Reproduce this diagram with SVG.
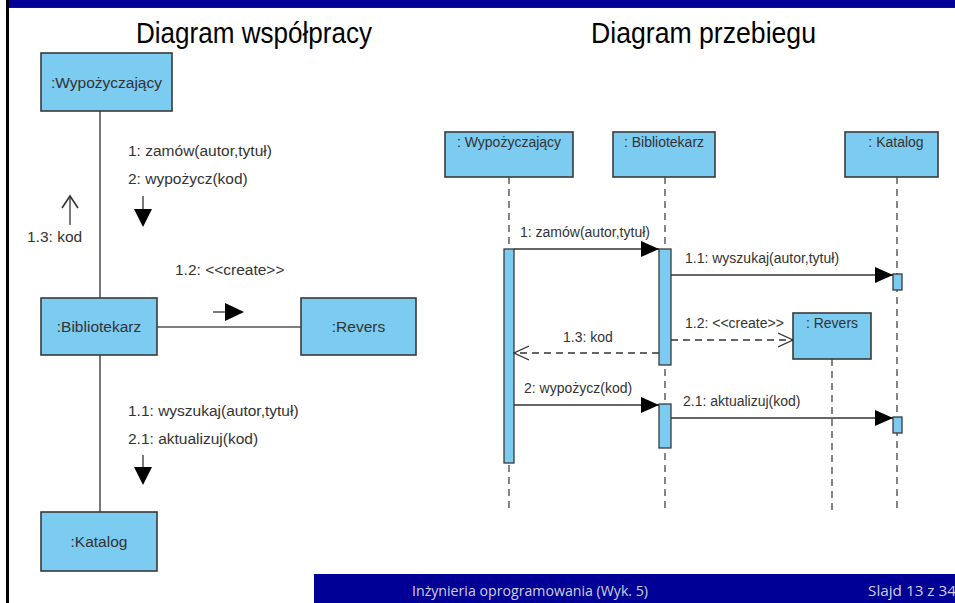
<svg xmlns="http://www.w3.org/2000/svg" width="955" height="603" viewBox="0 0 955 603">
  <defs>
    <style>
      .box { fill: #7ccbf0; stroke: #3a3a3a; stroke-width: 1.6; }
      .act { fill: #7ccbf0; stroke: #3a3a3a; stroke-width: 1.3; }
      .link { stroke: #555; stroke-width: 1.6; fill: none; }
      .life { stroke: #444; stroke-width: 1.3; stroke-dasharray: 7 5; fill: none; }
      .msg { stroke: #333; stroke-width: 1.3; fill: none; }
      .ret { stroke: #333; stroke-width: 1.3; stroke-dasharray: 7 5; fill: none; }
      .lbl { font-family: "Liberation Sans", Arial, sans-serif; font-size: 15.5px; fill: #333; }
      .slbl { font-family: "Liberation Sans", Arial, sans-serif; font-size: 14px; fill: #333; }
      .title { font-family: "Liberation Sans", Arial, sans-serif; font-size: 30px; fill: #000; }
      .foot { font-family: "Open Sans", "Liberation Sans", sans-serif; font-size: 15px; fill: #d0d0e0; }
    </style>
    <marker id="solid" markerWidth="18" markerHeight="16" refX="18" refY="8" orient="auto" markerUnits="userSpaceOnUse">
      <path d="M0,0 L18,8 L0,16 Z" fill="#000"/>
    </marker>
    <marker id="open" markerWidth="16" markerHeight="16" refX="15" refY="8" orient="auto" markerUnits="userSpaceOnUse">
      <path d="M0,1 L15,8 L0,15" fill="none" stroke="#333" stroke-width="1.3"/>
    </marker>
  </defs>

  <rect x="0" y="0" width="955" height="603" fill="#fff"/>

  <!-- slide frame -->
  <rect x="9" y="0" width="946" height="7" fill="#000096"/>
  <line x1="9" y1="7.5" x2="955" y2="7.5" stroke="#1a1a40" stroke-width="1"/>
  <rect x="6" y="0" width="3" height="603" fill="#000"/>

  <!-- titles -->
  <text class="title" x="136" y="43" textLength="236" lengthAdjust="spacingAndGlyphs">Diagram współpracy</text>
  <text class="title" x="591" y="43" textLength="225" lengthAdjust="spacingAndGlyphs">Diagram przebiegu</text>

  <!-- collaboration diagram links -->
  <g id="collab-links">
    <line class="link" x1="100" y1="111" x2="100" y2="298"/>
    <line class="link" x1="100" y1="355" x2="100" y2="512"/>
    <line class="link" x1="157" y1="327" x2="301" y2="327"/>
    <!-- message direction arrows -->
    <line class="msg" x1="143" y1="196" x2="143" y2="210" stroke-width="1.6"/>
    <path d="M134,209 L152,209 L143,227 Z" fill="#000"/>
    <line class="msg" x1="143" y1="455" x2="143" y2="468" stroke-width="1.6"/>
    <path d="M134,467 L152,467 L143,485 Z" fill="#000"/>
    <line class="msg" x1="213" y1="312" x2="226" y2="312" stroke-width="1.6"/>
    <path d="M225,303 L244,312 L225,321 Z" fill="#000"/>
    <line class="msg" x1="70" y1="225" x2="70" y2="196" stroke-width="1.6"/>
    <path d="M62,208 L70,196 L78,208" fill="none" stroke="#333" stroke-width="1.6"/>
    <text class="lbl" x="128" y="156">1: zamów(autor,tytuł)</text>
    <text class="lbl" x="128" y="184">2: wypożycz(kod)</text>
    <text class="lbl" x="27" y="242">1.3: kod</text>
    <text class="lbl" x="175" y="275">1.2: &lt;&lt;create&gt;&gt;</text>
    <text class="lbl" x="128" y="416">1.1: wyszukaj(autor,tytuł)</text>
    <text class="lbl" x="128" y="444">2.1: aktualizuj(kod)</text>
  </g>

  <g id="c-wypozyczajacy">
    <rect class="box" x="41" y="53" width="131" height="58"/>
    <text class="lbl" x="106.5" y="88" text-anchor="middle">:Wypożyczający</text>
  </g>
  <g id="c-bibliotekarz">
    <rect class="box" x="41" y="298" width="116" height="57"/>
    <text class="lbl" x="99" y="332" text-anchor="middle">:Bibliotekarz</text>
  </g>
  <g id="c-revers">
    <rect class="box" x="301" y="298" width="115" height="57"/>
    <text class="lbl" x="358.5" y="332" text-anchor="middle">:Revers</text>
  </g>
  <g id="c-katalog">
    <rect class="box" x="41" y="512" width="116" height="59"/>
    <text class="lbl" x="99" y="547" text-anchor="middle">:Katalog</text>
  </g>

  <!-- sequence diagram -->
  <g id="s-wypozyczajacy">
    <rect class="box" x="445" y="132" width="128" height="45"/>
    <text class="slbl" x="509" y="147" text-anchor="middle">: Wypożyczający</text>
    <line class="life" x1="509" y1="177" x2="509" y2="510"/>
    <rect class="act" x="504" y="249" width="10" height="214"/>
  </g>
  <g id="s-bibliotekarz">
    <rect class="box" x="613" y="132" width="102" height="45"/>
    <text class="slbl" x="664" y="147" text-anchor="middle">: Bibliotekarz</text>
    <line class="life" x1="665" y1="177" x2="665" y2="510"/>
    <rect class="act" x="659" y="249" width="12" height="116"/>
    <rect class="act" x="659" y="404" width="12" height="44"/>
  </g>
  <g id="s-katalog">
    <rect class="box" x="845" y="132" width="93" height="45"/>
    <text class="slbl" x="896" y="147" text-anchor="middle">: Katalog</text>
    <line class="life" x1="897" y1="177" x2="897" y2="510"/>
    <rect class="act" x="893" y="274" width="9" height="16"/>
    <rect class="act" x="893" y="417" width="9" height="16"/>
  </g>
  <g id="s-revers">
    <rect class="box" x="793" y="313" width="78" height="46"/>
    <text class="slbl" x="832" y="328" text-anchor="middle">: Revers</text>
    <line class="life" x1="832" y1="359" x2="832" y2="510"/>
  </g>

  <g id="s-messages">
    <line class="msg" x1="514" y1="249" x2="659" y2="249" marker-end="url(#solid)"/>
    <text class="slbl" x="520" y="237">1: zamów(autor,tytuł)</text>
    <line class="msg" x1="671" y1="275" x2="893" y2="275" marker-end="url(#solid)"/>
    <text class="slbl" x="685" y="263">1.1: wyszukaj(autor,tytuł)</text>
    <line class="ret" x1="671" y1="340" x2="793" y2="340" marker-end="url(#open)"/>
    <text class="slbl" x="685" y="328">1.2: &lt;&lt;create&gt;&gt;</text>
    <line class="ret" x1="659" y1="353" x2="514" y2="353" marker-end="url(#open)"/>
    <text class="slbl" x="563" y="342">1.3: kod</text>
    <line class="msg" x1="514" y1="405" x2="659" y2="405" marker-end="url(#solid)"/>
    <text class="slbl" x="524" y="393">2: wypożycz(kod)</text>
    <line class="msg" x1="671" y1="418" x2="893" y2="418" marker-end="url(#solid)"/>
    <text class="slbl" x="683" y="406">2.1: aktualizuj(kod)</text>
  </g>

  <!-- footer -->
  <rect x="314" y="574" width="641" height="29" fill="#000096"/>
  <text class="foot" x="412" y="596" textLength="236" lengthAdjust="spacingAndGlyphs">Inżynieria oprogramowania (Wyk. 5)</text>
  <text class="foot" x="868" y="596" textLength="88" lengthAdjust="spacingAndGlyphs">Slajd 13 z 34</text>
</svg>
